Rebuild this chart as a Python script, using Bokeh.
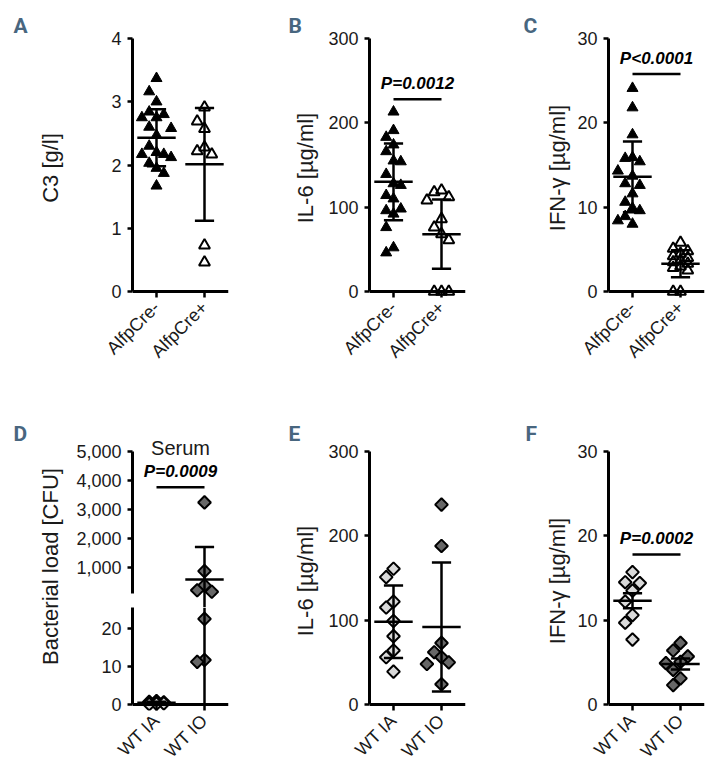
import numpy as np
from bokeh.plotting import figure
from bokeh.models import Range1d, FixedTicker, Span, Label, NumeralTickFormatter, Title
from bokeh.layouts import row, column
from bokeh.core.properties import value
from bokeh.embed import file_html
from bokeh.resources import INLINE

# ---------------- data ----------------
top_groups = ["AlfpCre-", "AlfpCre+"]
bottom_groups = ["WT IA", "WT IO"]

a_neg = [3.37, 3.16, 3.00, 2.84, 2.80, 2.75, 2.75, 2.60, 2.58, 2.47, 2.30, 2.20, 2.17, 2.17, 2.12, 2.03, 1.95, 1.87, 1.67]
a_pos = [2.91, 2.69, 2.57, 2.28, 2.22, 2.17, 0.73, 0.46]
a_mean = [2.43, 2.01]
a_err = [0.45, 0.89]
a_ticks = [0, 1, 2, 3, 4]

b_neg = [213, 191, 183, 174, 166, 155, 154, 139, 128, 126, 114, 110, 98, 96, 92, 76, 52, 46]
b_pos = [120, 118, 112, 108, 86, 76, 68, 61, 0, 0, 0]
b_mean = [130, 68]
b_err = [45.5, 41]
b_ticks = [0, 100, 200, 300]
b_p = "P=0.0012"
b_p_y = 228

c_neg = [24.1, 21.8, 18.6, 15.9, 15.8, 15.4, 14.3, 13.7, 12.8, 12.6, 11.6, 10.6, 9.9, 9.6, 8.9, 8.4, 8.0]
c_pos = [5.8, 5.1, 4.8, 4.5, 4.2, 4.0, 3.7, 3.5, 3.3, 3.0, 2.8, 2.5, 0, 0]
c_mean = [13.6, 3.3]
c_err = [4.2, 1.6]
c_ticks = [0, 10, 20, 30]
c_p = "P<0.0001"
c_p_y = 25.8

d_ia = [0.9, 0.7, 0.6, 0.5, 0.4, 0.3, 0.2, 0.1]
d_io = [3250, 890, 400, 230, 180, 22.5, 11.7, 11.2]
d_mean = [0.45, 600]
d_err = [0.3, 1120]
d_ticks_low = [0, 10, 20]
d_ticks_up = [1000, 2000, 3000, 4000, 5000]
d_p = "P=0.0009"
d_p_y = 3770
d_title = "Serum"

e_ia = [161, 151, 122, 115, 99, 81, 64, 56, 39]
e_io = [237, 188, 73, 62, 56, 50, 48, 24]
e_mean = [98, 92]
e_err = [43, 76.5]
e_ticks = [0, 100, 200, 300]

f_ia = [15.7, 14.5, 14.4, 13.5, 12.2, 10.6, 9.7, 7.7]
f_io = [7.3, 6.4, 5.7, 5.05, 4.9, 4.1, 3.1, 2.3]
f_mean = [12.3, 4.8]
f_err = [0.9, 0.65]
f_ticks = [0, 10, 20, 30]
f_p = "P=0.0002"
f_p_y = 17.8

ylabels = ["C3 [g/l]", "IL-6 [µg/ml]", "IFN-γ [µg/ml]",
           "Bacterial load [CFU]", "IL-6 [µg/ml]", "IFN-γ [µg/ml]"]
letters = ["A", "B", "C", "D", "E", "F"]

# ---------------- styling / layout ----------------
FONT = "Liberation Sans"
LETTER_FONT = "Roboto"
LETTER_COLOR = "#48667f"
TXT = "#1a1a1a"
FW = 96
XPPU = FW / 2.0
PAD = 6
STEP = 7.3
AXIS_PX = 253

filled_tri = dict(marker="triangle", size=11, fill_color="black", line_color="black", line_width=1)
open_tri = dict(marker="triangle", size=11, fill_alpha=0, line_color="black", line_width=2)
light_dia = dict(marker="square", angle=np.pi / 4, size=9, fill_color="#d9d9d9", line_color="black", line_width=2)
dark_dia = dict(marker="square", angle=np.pi / 4, size=9, fill_color="#676767", line_color="black", line_width=2)

# page geometry (px)
T1, B1 = 38, 80
H1 = T1 + AXIS_PX + PAD + B1
T2, B2 = 451 - H1, 66
H2 = T2 + AXIS_PX + PAD + B2
LEFT = [132, 121, 123]
RIGHT = [20, 20, 10]
D_LAB_W = 66


def letter_title(text, dx, standoff):
    return Title(text=text, align="left", offset=dx, standoff=standoff,
                 vertical_align="bottom", text_font=LETTER_FONT, text_font_style="bold",
                 text_font_size="21px", text_color=LETTER_COLOR)


def swarm(vals, ppu, max_k=2, thresh=14.0):
    order = sorted(range(len(vals)), key=lambda i: -vals[i])
    cands = [0]
    for k in range(1, max_k + 1):
        cands += [-k, k]
    placed = []
    offs = [0.0] * len(vals)
    for i in order:
        y = vals[i] * ppu
        chosen, best_k, best_d = None, 0, -1.0
        for k in cands:
            d = min([abs(y - py) for pk, py in placed if pk == k], default=1e9)
            if d >= thresh:
                chosen = k
                break
            if d > best_d:
                best_d, best_k = d, k
        if chosen is None:
            chosen = best_k
        placed.append((chosen, y))
        offs[i] = chosen * STEP / XPPU
    return offs


def errbar(p, i, m, e, seg_lo, seg_hi, ext_lo, ext_hi):
    lo, hi = m - e, m + e
    if hi < seg_lo or lo > seg_hi:
        return
    y0 = lo if lo >= seg_lo else ext_lo
    y1 = hi if hi <= seg_hi else ext_hi
    kw = dict(line_color="black", line_width=2.5)
    p.segment(x0=[i], y0=[y0], x1=[i], y1=[y1], **kw)
    if seg_lo <= m <= seg_hi:
        p.segment(x0=[i - 0.4], y0=[m], x1=[i + 0.4], y1=[m], **kw)
    for c in (lo, hi):
        if seg_lo <= c <= seg_hi:
            p.segment(x0=[i - 0.2], y0=[c], x1=[i + 0.2], y1=[c], **kw)


def make_panel(groups, series, styles, means, errs, top, ticks, lb, rb, tb, bb,
               ylabel=None, label_standoff=7, letter=None, letter_dx=0, letter_standoff=0,
               y_lo=0.0, axis_px=AXIS_PX, below_px=PAD, above_px=0, show_x=True,
               max_k=(2, 2), ext_lo=None, fmt=None):
    ppu = axis_px / (top - y_lo)
    ystart = y_lo - below_px / ppu
    yend = top + above_px / ppu
    title = letter_title(letter, letter_dx, letter_standoff) if letter else None
    p = figure(frame_width=FW, frame_height=int(round(axis_px + below_px + above_px)),
               x_range=Range1d(-0.5, 1.5), y_range=Range1d(ystart, yend),
               min_border_left=lb, min_border_right=rb, min_border_top=tb, min_border_bottom=bb,
               x_axis_location="below" if show_x else None, title=title,
               output_backend="svg", toolbar_location=None)
    p.outline_line_color = None
    p.grid.grid_line_color = None
    p.background_fill_color = "white"
    p.border_fill_color = "white"

    ya = p.yaxis[0]
    ya.bounds = (y_lo, top)
    ya.ticker = FixedTicker(ticks=ticks)
    if fmt is not None:
        ya.formatter = fmt
    ya.axis_line_width = 3
    ya.axis_line_color = "black"
    ya.major_tick_line_width = 2.5
    ya.major_tick_in = 0
    ya.major_tick_out = 5
    ya.minor_tick_line_color = None
    ya.major_label_standoff = 6
    ya.major_label_text_font = FONT
    ya.major_label_text_font_size = "18px"
    ya.major_label_text_color = TXT
    if ylabel:
        ya.axis_label = ylabel
        ya.axis_label_text_font = FONT
        ya.axis_label_text_font_size = "22px"
        ya.axis_label_text_font_style = "normal"
        ya.axis_label_text_color = TXT
        ya.axis_label_standoff = label_standoff

    if show_x:
        xa = p.xaxis[0]
        xa.ticker = FixedTicker(ticks=[0, 1])
        xa.major_label_overrides = {0: groups[0], 1: groups[1]}
        xa.axis_line_color = None
        xa.major_tick_in = below_px
        xa.major_tick_out = 0
        xa.major_tick_line_width = 2.5
        xa.minor_tick_line_color = None
        xa.major_label_orientation = np.pi / 4
        xa.major_label_standoff = 7
        xa.major_label_text_font = FONT
        xa.major_label_text_font_size = "18px"
        xa.major_label_text_color = TXT
        p.add_layout(Span(location=0, dimension="width", line_color="black", line_width=3))

    for i, (vals, st) in enumerate(zip(series, styles)):
        vals = [v for v in vals if y_lo <= v <= top]
        if not vals:
            continue
        offs = swarm(vals, ppu, max_k=max_k[i])
        xs = [i + o for o in offs]
        p.scatter(x=xs, y=vals, **st)

    lo_ext = y_lo if ext_lo is None else ext_lo
    for i, (m, e) in enumerate(zip(means, errs)):
        errbar(p, i, m, e, y_lo, top, lo_ext, top)
    return p


def add_p(p, text, y):
    p.segment(x0=[0], y0=[y], x1=[1], y1=[y], line_color="black", line_width=2.5)
    p.add_layout(Label(x=0.5, y=y, y_offset=6, text=text, text_align="center", text_baseline="bottom",
                       text_font=FONT, text_font_style="bold italic", text_font_size="17px",
                       text_color="black"))


pa = make_panel(top_groups, [a_neg, a_pos], [filled_tri, open_tri], a_mean, a_err, 4, a_ticks,
                LEFT[0], RIGHT[0], T1, B1, ylabel=ylabels[0], label_standoff=45,
                letter=letters[0], letter_dx=-119, letter_standoff=2)
pb = make_panel(top_groups, [b_neg, b_pos], [filled_tri, open_tri], b_mean, b_err, 300, b_ticks,
                LEFT[1], RIGHT[1], T1, B1, ylabel=ylabels[1], label_standoff=7,
                letter=letters[1], letter_dx=-81, letter_standoff=2)
add_p(pb, b_p, b_p_y)
pc = make_panel(top_groups, [c_neg, c_pos], [filled_tri, open_tri], c_mean, c_err, 30, c_ticks,
                LEFT[2], RIGHT[2], T1, B1, ylabel=ylabels[2], label_standoff=4,
                letter=letters[2], letter_dx=-85, letter_standoff=2, max_k=(2, 1))
add_p(pc, c_p, c_p_y)

# panel D: broken axis -> upper and lower segment, y title + letter in a narrow strip
UP_LO, UP_TOP, UP_PX, GAP, UP_ABOVE = 120, 5000, 142, 14, 14
LOW_TOP, LOW_PX = 25.5, 97
up_ppu = UP_PX / (UP_TOP - UP_LO)
pd_up = make_panel(bottom_groups, [d_ia, d_io], [light_dia, dark_dia], d_mean, d_err, UP_TOP, d_ticks_up,
                   LEFT[0] - D_LAB_W, RIGHT[0], T2 - UP_ABOVE, 0, y_lo=UP_LO, axis_px=UP_PX, below_px=GAP,
                   above_px=UP_ABOVE, show_x=False, ext_lo=UP_LO - GAP / up_ppu,
                   fmt=NumeralTickFormatter(format="0,0"))
add_p(pd_up, d_p, d_p_y)
pd_up.add_layout(Label(x=0.5, y=d_p_y, y_offset=28, text=d_title, text_align="center",
                       text_baseline="bottom", text_font=FONT, text_font_size="20px", text_color=TXT))
pd_low = make_panel(bottom_groups, [d_ia, d_io], [light_dia, dark_dia], d_mean, d_err, LOW_TOP, d_ticks_low,
                    LEFT[0] - D_LAB_W, RIGHT[0], 0, B2, axis_px=LOW_PX, max_k=(1, 2))

D_FRAME_H = AXIS_PX + PAD
pd_lab = figure(frame_width=D_LAB_W, frame_height=D_FRAME_H,
                x_range=Range1d(0, D_LAB_W), y_range=Range1d(0, D_FRAME_H),
                min_border_left=0, min_border_right=0, min_border_top=T2, min_border_bottom=B2,
                x_axis_location=None, y_axis_location=None,
                title=letter_title(letters[3], 13, 12),
                output_backend="svg", toolbar_location=None)
pd_lab.outline_line_color = None
pd_lab.grid.grid_line_color = None
# y title centred between the two axis segments (frame spans page y 451..710)
pd_lab.text(x=[50], y=[(451 + D_FRAME_H) - 566], text=[ylabels[3]], angle=np.pi / 2,
            text_align="center", text_baseline="middle", text_font=value(FONT),
            text_font_size=value("22px"), text_color=TXT)

pe = make_panel(bottom_groups, [e_ia, e_io], [light_dia, dark_dia], e_mean, e_err, 300, e_ticks,
                LEFT[1], RIGHT[1], T2, B2, ylabel=ylabels[4], label_standoff=7,
                letter=letters[4], letter_dx=-81, letter_standoff=12)
pf = make_panel(bottom_groups, [f_ia, f_io], [light_dia, dark_dia], f_mean, f_err, 30, f_ticks,
                LEFT[2], RIGHT[2], T2, B2, ylabel=ylabels[5], label_standoff=4,
                letter=letters[5], letter_dx=-83, letter_standoff=12)
add_p(pf, f_p, f_p_y)

layout = column(
    row(pa, pb, pc),
    row(pd_lab, column(pd_up, pd_low), pe, pf),
)

open("out.html", "w").write(file_html(layout, INLINE))
